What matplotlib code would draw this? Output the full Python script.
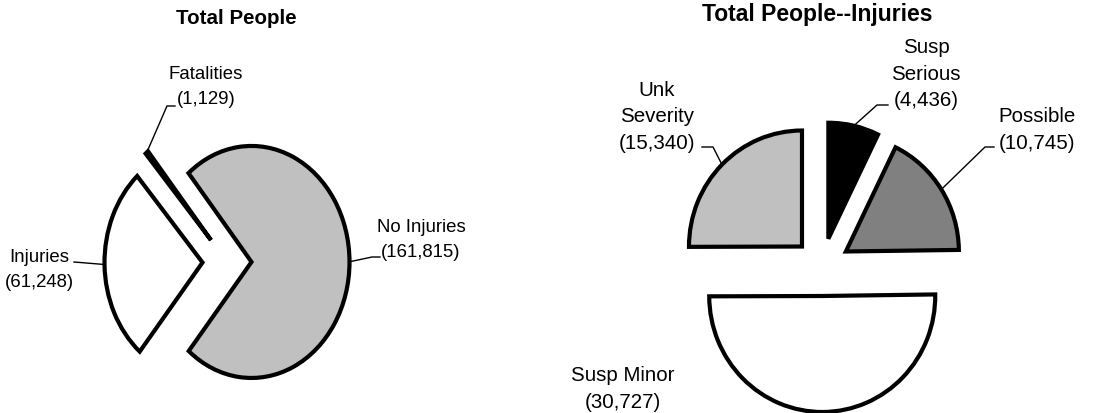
import matplotlib
matplotlib.use('Agg')
import matplotlib.pyplot as plt
from matplotlib.lines import Line2D
import numpy as np

plt.rcParams['font.family'] = ['Liberation Sans', 'DejaVu Sans']

# ---------------- data ----------------
left_title = 'Total People'
left_labels = ['Fatalities', 'Injuries', 'No Injuries']
left_values = [1129, 61248, 161815]
left_colors = ['#000000', '#FFFFFF', '#C0C0C0']

right_title = 'Total People--Injuries'
right_labels = ['Susp\nSerious', 'Possible', 'Susp Minor', 'Unk\nSeverity']
right_values = [4436, 10745, 30727, 15340]
right_colors = ['#000000', '#808080', '#FFFFFF', '#C0C0C0']

# ---------------- layout ----------------
W, H = 1093, 414
fig = plt.figure(figsize=(W / 100, H / 100), dpi=100)

LW = 3.0


def make_pie(box, center, rx, ry, values, colors, start, counterclock, explode):
    x0, x1 = box
    ax = fig.add_axes([x0 / W, 0, (x1 - x0) / W, 1])
    wedges, _ = ax.pie(values, colors=colors, startangle=start,
                       counterclock=counterclock, explode=explode,
                       wedgeprops=dict(edgecolor='black', linewidth=LW,
                                       joinstyle='miter'))
    ax.set_aspect('auto')
    cx, cy = center
    cyb = H - cy
    ax.set_xlim((x0 - cx) / rx, (x1 - cx) / rx)
    ax.set_ylim((0 - cyb) / ry, (H - cyb) / ry)
    ax.axis('off')
    return ax, wedges


def to_px(ax, x, y):
    """data -> figure pixel (y from top)"""
    X, Y = ax.transData.transform((x, y))
    return X, H - Y


def arc_point(ax, wedge, frac=1.0):
    th = np.deg2rad((wedge.theta1 + wedge.theta2) / 2)
    cx, cy = wedge.center
    return to_px(ax, cx + frac * wedge.r * np.cos(th), cy + frac * wedge.r * np.sin(th))


def ftext(x, y, s, **kw):
    fig.text(x / W, 1 - y / H, s, **kw)


def leader(pts):
    xs = [p[0] / W for p in pts]
    ys = [1 - p[1] / H for p in pts]
    fig.add_artist(Line2D(xs, ys, color='black', linewidth=1.0,
                          transform=fig.transFigure))


def fmt(v):
    return '({:,})'.format(v)


# Left pie
axL, wL = make_pie((0, 546), (227, 263), 98, 116, left_values, left_colors,
                   130, True, [0.25, 0.25, 0.25])
# Right pie
axR, wR = make_pie((546, 1093), (822, 268), 113, 116, right_values, right_colors,
                   90, False, [0.25, 0.25, 0.25, 0.25])
fig.canvas.draw()

# Titles
ftext(236, 18, left_title, ha='center', va='center', fontsize=14.8,
      fontweight='bold')
ftext(817, 15, right_title, ha='center', va='center', fontsize=16.5,
      fontweight='bold')

txtL = dict(ha='center', va='center', fontsize=13.4, linespacing=1.63)
txtR = dict(ha='center', va='center', fontsize=14.8, linespacing=1.47)

# Left labels: (text center, leader elbow, leader end)
left_layout = [
    ((206, 87), (167, 107), (175, 107)),
    ((39, 270), None, (74, 263)),
    ((421, 240), (372, 258), (380, 258)),
]
for w, lab, val, (tc, elbow, end) in zip(wL, left_labels, left_values, left_layout):
    ftext(tc[0], tc[1], lab + '\n' + fmt(val), **txtL)
    start = arc_point(axL, w)
    pts = [start] + ([elbow] if elbow else []) + [end]
    leader(pts)

right_layout = [
    ((926, 74), (877, 106), (888, 106)),
    ((1037, 130), (985, 148), (994, 148)),
    ((623, 389), None, None),
    ((657, 117), (713, 148), (702, 148)),
]
for w, lab, val, (tc, elbow, end) in zip(wR, right_labels, right_values, right_layout):
    ftext(tc[0], tc[1], lab + '\n' + fmt(val), **txtR)
    if end is not None:
        start = arc_point(axR, w)
        leader([start, elbow, end])

fig.savefig('out.png', dpi=100, facecolor='white')
